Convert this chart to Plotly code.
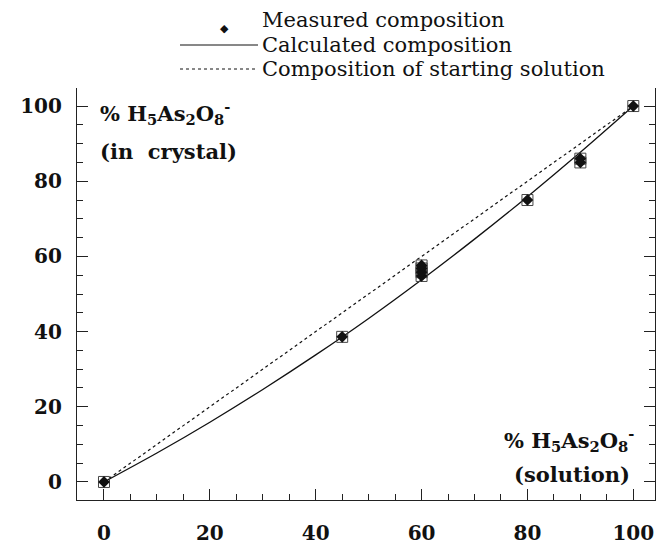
import plotly.graph_objects as go

# ---- data ----
meas_x = [0, 45, 60, 60, 60, 60, 80, 90, 90, 100]
meas_y = [0, 38.6, 54.8, 55.8, 56.8, 57.6, 75.0, 85.0, 86.0, 100]
calc_x = [0, 10, 20, 30, 40, 50, 60, 70, 80, 90, 100]
calc_y = [0, 7.7, 15.9, 24.6, 33.8, 43.5, 53.8, 64.6, 75.9, 87.7, 100]
start_x = [0, 100]
start_y = [0, 100]
tick_text = ["0", "20", "40", "60", "80", "100"]
legend_labels = ["Measured composition", "Calculated composition",
                 "Composition of starting solution"]

W, H = 661, 548
L, R, T, B = 77, 6, 88, 48
PW, PH = W - L - R, H - T - B
X_RANGE = [-5.1, 104.1]
Y_RANGE = [-4.8, 104.8]


def px(x):  # window pixel -> paper x
    return (x - L) / PW


def py(y):  # window pixel -> paper y
    return (H - B - y) / PH


SERIF = "DejaVu Serif"
INK = "#111111"
AX = "#222222"

fig = go.Figure()

fig.add_trace(go.Scatter(x=start_x, y=start_y, mode="lines",
                         line=dict(color=INK, width=1.2, dash="dot"),
                         showlegend=False, hoverinfo="skip"))
fig.add_trace(go.Scatter(x=calc_x, y=calc_y, mode="lines",
                         line=dict(color=INK, width=1.3, shape="spline",
                                   smoothing=0.8),
                         showlegend=False, hoverinfo="skip"))
fig.add_trace(go.Scatter(x=meas_x, y=meas_y, mode="markers",
                         marker=dict(symbol="square-open", size=11,
                                     color="#444444", line=dict(width=1)),
                         showlegend=False, hoverinfo="skip"))
fig.add_trace(go.Scatter(x=meas_x, y=meas_y, mode="markers",
                         marker=dict(symbol="diamond", size=9, color=INK),
                         showlegend=False))
# carrier trace so the right-hand axis is drawn (invisible)
fig.add_trace(go.Scatter(x=start_x, y=start_y, yaxis="y2", mode="lines",
                         line=dict(width=0), opacity=0,
                         showlegend=False, hoverinfo="skip"))

axis_common = dict(
    showgrid=False, zeroline=False, showline=True, linecolor=AX,
    linewidth=1.2, ticks="inside", ticklen=11, tickwidth=1.2, tickcolor=AX,
    tickmode="linear", tick0=0, dtick=20, automargin=False,
    tickfont=dict(family=SERIF, size=20, color=INK, weight="bold"),
    minor=dict(dtick=5, tick0=0, ticks="inside", ticklen=6,
               tickcolor=AX, tickwidth=1),
)

fig.update_layout(
    xaxis=dict(range=X_RANGE, ticklabelstandoff=15, **axis_common),
    yaxis=dict(range=Y_RANGE, ticklabelstandoff=10, **axis_common),
    yaxis2=dict(range=Y_RANGE, overlaying="y", side="right", anchor="x",
                showticklabels=False, **axis_common),
)

annotations = []
shapes = []
# manual legend
rows = [20, 45, 69]
annotations.append(dict(xref="paper", yref="paper", x=px(218), y=py(rows[0]),
                        text="◆", showarrow=False,
                        font=dict(family=SERIF, size=11, color=INK)))
shapes.append(dict(type="line", xref="paper", yref="paper",
                   x0=px(180), x1=px(258), y0=py(rows[1]), y1=py(rows[1]),
                   line=dict(color=INK, width=1)))
shapes.append(dict(type="line", xref="paper", yref="paper",
                   x0=px(180), x1=px(258), y0=py(rows[2]), y1=py(rows[2]),
                   line=dict(color=INK, width=1, dash="dot")))
for r, lab in zip(rows, legend_labels):
    annotations.append(dict(xref="paper", yref="paper", x=px(260), y=py(r),
                            text=lab, showarrow=False, xanchor="left",
                            yanchor="middle",
                            font=dict(family=SERIF, size=21, color=INK)))

formula = "% H<sub>5</sub>As<sub>2</sub>O<sub>8</sub><sup>-</sup>"
lab_font = dict(family=SERIF, size=21, color=INK, weight="bold")
annotations += [
    dict(xref="paper", yref="paper", x=px(98), y=py(113), text=formula,
         showarrow=False, xanchor="left", yanchor="middle", font=lab_font),
    dict(xref="paper", yref="paper", x=px(98), y=py(151), text="(in  crystal)",
         showarrow=False, xanchor="left", yanchor="middle", font=lab_font),
    dict(xref="paper", yref="paper", x=px(636), y=py(440), text=formula,
         showarrow=False, xanchor="right", yanchor="middle", font=lab_font),
    dict(xref="paper", yref="paper", x=px(632), y=py(474), text="(solution)",
         showarrow=False, xanchor="right", yanchor="middle", font=lab_font),
]

fig.update_layout(
    width=W, height=H, margin=dict(l=L, r=R, t=T, b=B, pad=0),
    paper_bgcolor="white", plot_bgcolor="white",
    showlegend=False, annotations=annotations, shapes=shapes,
)

# remove the default 8px page margin so the figure fills the window exactly
fig.write_html("out.html",
               config={"displayModeBar": False},
               post_script="document.body.style.margin='0';"
                           "document.body.style.overflow='hidden';")
